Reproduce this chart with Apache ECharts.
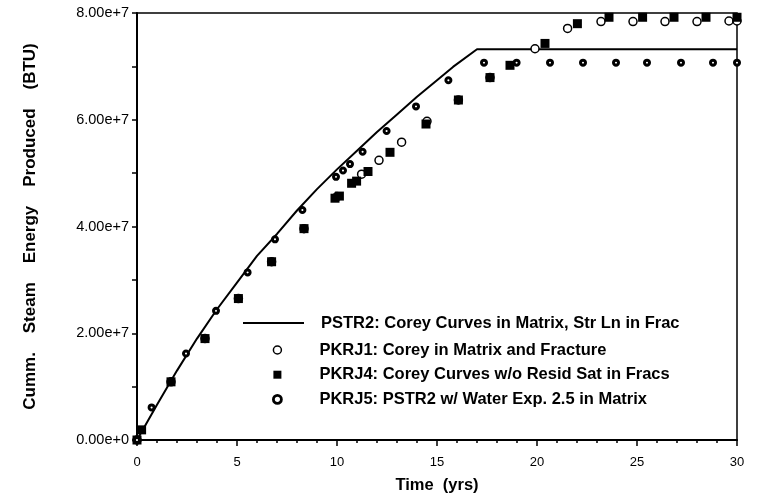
<!DOCTYPE html>
<html>
<head>
<meta charset="utf-8">
<script src="https://cdn.jsdelivr.net/npm/echarts@6/dist/echarts.min.js"></script>
<style>
html,body{margin:0;padding:0;background:#fff;}
#chart{width:760px;height:501px;}
</style>
</head>
<body>
<div id="chart"></div>
<script>
// ---- Data ----
var seriesNames = [
  'PSTR2: Corey Curves in Matrix, Str Ln in Frac',
  'PKRJ1: Corey in Matrix and Fracture',
  'PKRJ4: Corey Curves w/o Resid Sat in Fracs',
  'PKRJ5: PSTR2 w/ Water Exp. 2.5 in Matrix'
];
// PSTR2 line: [time (yrs), energy (BTU)]
var pstr2 = [
  [0, 0], [1, 0.66e7], [2, 1.30e7], [3, 1.90e7], [4, 2.45e7], [5, 2.95e7],
  [6, 3.45e7], [7, 3.86e7], [8, 4.30e7], [9, 4.70e7], [10, 5.07e7],
  [11, 5.42e7], [12, 5.77e7], [13, 6.10e7], [14, 6.43e7], [15, 6.74e7],
  [15.8, 6.99e7], [17, 7.32e7], [30, 7.32e7]
];
// PKRJ1 open circles
var pkrj1 = [
  [0, 0], [1.7, 1.09e7], [3.4, 1.90e7], [5.07, 2.65e7], [6.73, 3.34e7],
  [8.35, 3.96e7], [10.0, 4.56e7], [11.23, 4.98e7], [12.1, 5.24e7],
  [13.23, 5.58e7], [14.5, 5.97e7], [16.07, 6.37e7], [17.65, 6.79e7],
  [19.9, 7.33e7], [21.53, 7.71e7], [23.2, 7.84e7], [24.8, 7.84e7],
  [26.4, 7.84e7], [28.0, 7.84e7], [29.6, 7.85e7], [30, 7.85e7]
];
// PKRJ4 filled squares
var pkrj4 = [
  [0, 0], [0.23, 0.19e7], [1.7, 1.09e7], [3.4, 1.90e7], [5.07, 2.65e7],
  [6.73, 3.34e7], [8.35, 3.96e7], [9.9, 4.53e7], [10.12, 4.57e7],
  [10.73, 4.81e7], [10.98, 4.85e7], [11.55, 5.03e7], [12.65, 5.39e7],
  [14.45, 5.92e7], [16.07, 6.37e7], [17.65, 6.79e7], [18.65, 7.02e7],
  [20.4, 7.43e7], [22.02, 7.80e7], [23.6, 7.92e7], [25.28, 7.92e7],
  [26.85, 7.92e7], [28.45, 7.92e7], [30, 7.92e7]
];
// PKRJ5 ring markers
var pkrj5 = [
  [0, 0], [0.73, 0.61e7], [2.45, 1.62e7], [3.95, 2.42e7], [5.53, 3.14e7],
  [6.9, 3.76e7], [8.27, 4.31e7], [9.95, 4.93e7], [10.3, 5.05e7],
  [10.65, 5.17e7], [11.28, 5.40e7], [12.48, 5.79e7], [13.95, 6.25e7],
  [15.57, 6.74e7], [17.35, 7.07e7], [18.98, 7.07e7], [20.65, 7.07e7],
  [22.3, 7.07e7], [23.95, 7.07e7], [25.5, 7.07e7], [27.2, 7.07e7],
  [28.8, 7.07e7], [30, 7.07e7]
];
var xTitle = 'Time  (yrs)';
var yTitle = 'Cumm.    Steam    Energy    Produced    (BTU)';

// ---- Chart ----
var FONT = '"Liberation Sans", Arial, Helvetica, sans-serif';
var squarePath = 'path://M0,0L10,0L10,10L0,10Z';
var linePath = 'path://M0,0L61,0L61,2L0,2Z';
var chart = echarts.init(document.getElementById('chart'), null, {renderer: 'canvas'});
var legendText = {color: '#000', fontFamily: FONT, fontWeight: 'bold', fontSize: 16.5, lineHeight: 18};
chart.setOption({
  backgroundColor: '#fff',
  animation: false,
  grid: {left: 137, right: 23, top: 13, bottom: 61, show: true,
         borderColor: '#000', borderWidth: 1.5, containLabel: false},
  legend: [{
    orient: 'vertical', left: 243, top: 314, itemWidth: 61, itemHeight: 14,
    selectedMode: false, padding: 0,
    textStyle: Object.assign({padding: [0, 0, 0, 12]}, legendText),
    data: [{name: seriesNames[0], icon: linePath, itemStyle: {color: '#000', borderWidth: 0}}]
  }, {
    orient: 'vertical', left: 272, top: 341, itemWidth: 14, itemHeight: 8,
    itemGap: 6.7, selectedMode: false, padding: 0,
    textStyle: Object.assign({padding: [0, 0, 0, 30]}, legendText),
    data: [
      {name: seriesNames[1], icon: 'circle',
       itemStyle: {color: '#fff', borderColor: '#000', borderWidth: 1.5}},
      {name: seriesNames[2], icon: squarePath,
       itemStyle: {color: '#000', borderWidth: 0}},
      {name: seriesNames[3], icon: 'circle',
       itemStyle: {color: '#fff', borderColor: '#000', borderWidth: 2.8}}
    ]
  }],
  xAxis: {
    type: 'value', min: 0, max: 30, interval: 5,
    name: xTitle, nameLocation: 'middle', nameGap: 37,
    nameTextStyle: {color: '#000', fontFamily: FONT, fontWeight: 'bold', fontSize: 16.5},
    axisLine: {show: true, onZero: false, lineStyle: {color: '#000', width: 2}},
    axisTick: {show: true, length: 6, inside: false, lineStyle: {color: '#000', width: 1.5}},
    minorTick: {show: true, splitNumber: 5, length: 3, lineStyle: {color: '#000', width: 1.5}},
    axisLabel: {color: '#000', fontFamily: FONT, fontSize: 13, margin: 16},
    splitLine: {show: false}
  },
  yAxis: {
    type: 'value', min: 0, max: 8e7, interval: 2e7,
    name: yTitle, nameLocation: 'middle', nameRotate: 90, nameGap: 98,
    nameTextStyle: {color: '#000', fontFamily: FONT, fontWeight: 'bold', fontSize: 17},
    axisLine: {show: true, onZero: false, lineStyle: {color: '#000', width: 2}},
    axisTick: {show: true, length: 5, lineStyle: {color: '#000', width: 1.5}},
    minorTick: {show: true, splitNumber: 2, length: 5, lineStyle: {color: '#000', width: 1.5}},
    axisLabel: {color: '#000', fontFamily: FONT, fontSize: 14.5, margin: 8,
      formatter: function (v) { return v.toExponential(2); }},
    splitLine: {show: false}
  },
  series: [
    {name: seriesNames[0], type: 'line', data: pstr2, symbol: 'none',
     lineStyle: {color: '#000', width: 2}, itemStyle: {color: '#000'}, z: 3},
    {name: seriesNames[1], type: 'scatter', data: pkrj1, symbol: 'circle', symbolSize: 8,
     itemStyle: {color: '#fff', borderColor: '#000', borderWidth: 1.5, opacity: 1}, z: 4},
    {name: seriesNames[2], type: 'scatter', data: pkrj4, symbol: squarePath, symbolSize: 9,
     itemStyle: {color: '#000', borderWidth: 0, opacity: 1}, z: 5},
    {name: seriesNames[3], type: 'scatter', data: pkrj5, symbol: 'circle', symbolSize: 5,
     itemStyle: {color: '#fff', borderColor: '#000', borderWidth: 3, opacity: 1}, z: 6}
  ]
});
</script>
</body>
</html>
